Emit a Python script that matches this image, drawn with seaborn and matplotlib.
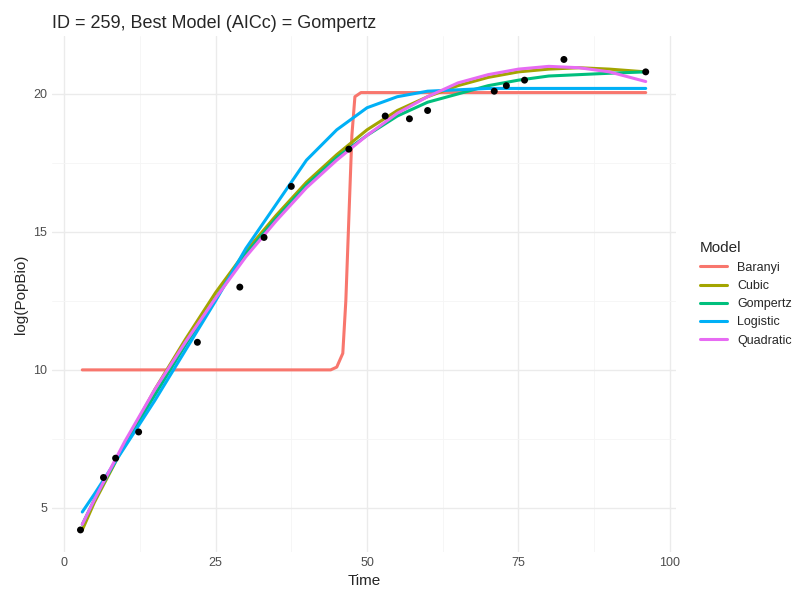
import numpy as np
import pandas as pd
import matplotlib
matplotlib.use("Agg")
import matplotlib.pyplot as plt
import seaborn as sns

# observed data
obs_time = [2.7, 6.5, 8.5, 12.3, 22.0, 29.0, 33.0, 37.5, 47.0, 53.0, 57.0, 60.0, 71.0, 73.0, 76.0, 82.5, 96.0]
obs_log = [4.2, 6.1, 6.8, 7.75, 11.0, 13.0, 14.8, 16.65, 18.0, 19.2, 19.1, 19.4, 20.1, 20.3, 20.5, 21.25, 20.8]

# fitted curves
grid_t = [3, 5, 10, 15, 20, 25, 30, 35, 40, 45, 50, 55, 60, 65, 70, 75, 80, 85, 90, 96]
gompertz = [4.4, 5.3, 7.3, 9.1, 10.9, 12.6, 14.2, 15.5, 16.7, 17.7, 18.5, 19.2, 19.7, 20.0, 20.3, 20.5, 20.65, 20.7, 20.75, 20.8]
cubic = [4.2, 5.2, 7.3, 9.3, 11.1, 12.8, 14.3, 15.6, 16.8, 17.8, 18.7, 19.4, 19.9, 20.3, 20.6, 20.8, 20.9, 20.95, 20.9, 20.8]
quadratic = [4.4, 5.3, 7.4, 9.3, 11.0, 12.6, 14.1, 15.4, 16.6, 17.6, 18.5, 19.3, 19.9, 20.4, 20.7, 20.9, 21.0, 20.95, 20.8, 20.45]
logistic = [4.85, 5.5, 7.2, 8.9, 10.7, 12.5, 14.4, 16.0, 17.6, 18.7, 19.5, 19.9, 20.1, 20.15, 20.2, 20.2, 20.2, 20.2, 20.2, 20.2]
baranyi_t = [3, 20, 44, 45, 46, 46.5, 47, 47.5, 48, 49, 60, 96]
baranyi = [10.0, 10.0, 10.0, 10.1, 10.6, 12.5, 15.5, 18.5, 19.9, 20.05, 20.05, 20.05]

models = ["Baranyi", "Cubic", "Gompertz", "Logistic", "Quadratic"]
colors = ["#F8766D", "#A3A500", "#00BF7D", "#00B0F6", "#E76BF3"]

frames = [pd.DataFrame({"Time": baranyi_t, "y": baranyi, "Model": "Baranyi"})]
for name, vals in [("Cubic", cubic), ("Gompertz", gompertz), ("Logistic", logistic), ("Quadratic", quadratic)]:
    frames.append(pd.DataFrame({"Time": grid_t, "y": vals, "Model": name}))
curves = pd.concat(frames, ignore_index=True)

sns.set_theme(style="whitegrid")
plt.rcParams["font.family"] = ["Liberation Sans", "DejaVu Sans"]
fig, ax = plt.subplots(figsize=(8, 6), dpi=100)

sns.scatterplot(x=obs_time, y=obs_log, color="black", s=25, edgecolor="none", ax=ax, zorder=3)
sns.lineplot(data=curves, x="Time", y="y", hue="Model", hue_order=models,
             palette=dict(zip(models, colors)), linewidth=2.2, ax=ax, zorder=2)

ax.set_xlim(-2, 101)
ax.set_ylim(3.4, 22.1)
ax.set_xticks([0, 25, 50, 75, 100])
ax.set_yticks([5, 10, 15, 20])
ax.set_xticks([12.5, 37.5, 62.5, 87.5], minor=True)
ax.set_yticks([7.5, 12.5, 17.5], minor=True)
ax.grid(which="major", color="#EBEBEB", linewidth=1)
ax.grid(which="minor", color="#F5F5F5", linewidth=0.6)
for s in ax.spines.values():
    s.set_visible(False)
ax.tick_params(colors="#4D4D4D", labelsize=9, length=0)
ax.set_xlabel("Time", fontsize=11)
ax.set_ylabel("log(PopBio)", fontsize=11)
ax.set_title("ID = 259, Best Model (AICc) = Gompertz", loc="left", fontsize=13)

leg = ax.legend(title="Model", loc="center left", bbox_to_anchor=(1.02, 0.5),
                frameon=False, fontsize=9, title_fontsize=11, handlelength=2.2)
leg._legend_box.align = "left"

fig.subplots_adjust(left=0.065, right=0.845, top=0.94, bottom=0.08)
fig.savefig("out.png", dpi=100)
